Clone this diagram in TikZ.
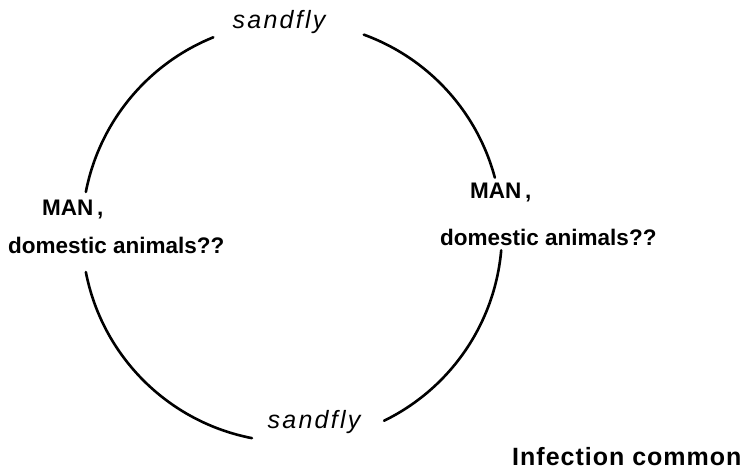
\documentclass[tikz,border=0pt]{standalone}
\usepackage{fontspec}
\setmainfont{Liberation Sans}
\newfontfamily\flyfont[LetterSpace=9]{Liberation Sans}
\newfontfamily\notefont[LetterSpace=4]{Liberation Sans}
\usetikzlibrary{positioning}
\tikzset{
  hostlbl/.style = {anchor=west, inner sep=0pt, font=\fontsize{22.5}{26}\selectfont\bfseries},
  flylbl/.style  = {inner sep=0pt, font=\fontsize{25}{28}\selectfont\flyfont\itshape},
  notelbl/.style = {anchor=west, inner sep=0pt, font=\fontsize{25}{28}\selectfont\notefont\bfseries},
  cyc/.style     = {line width=2.6pt, line cap=round}
}

\begin{document}
\begin{tikzpicture}[x=1pt, y=1pt]
\useasboundingbox (0,0) rectangle (741,473);
% ---- the cycle ----
\coordinate (ctr) at (292,241);
\draw[cyc] (ctr) ++(112:210) arc[start angle=112, end angle=169, radius=210];
\draw[cyc] (ctr) ++(191:210) arc[start angle=191, end angle=259, radius=210];
\draw[cyc] (ctr) ++(296:210) arc[start angle=296, end angle=355, radius=210];
\draw[cyc] (ctr) ++(15:210) arc[start angle=15, end angle=70, radius=210];

% ---- vectors ----
\node[flylbl] (flyT) at (279,451) {sandfly};
\node[flylbl] (flyB) at (314,51) {sandfly};

% ---- hosts ----
\node[hostlbl] (manL) at (42,263) {MAN\,,};
\node[hostlbl] (domL) at (8,228) {domestic animals??};
\node[hostlbl] (manR) at (470,280) {MAN\,,};
\node[hostlbl] (domR) at (440,236) {domestic animals??};

% ---- note ----
\node[notelbl] (note) at (512,16) {Infection common};
\end{tikzpicture}
\end{document}
